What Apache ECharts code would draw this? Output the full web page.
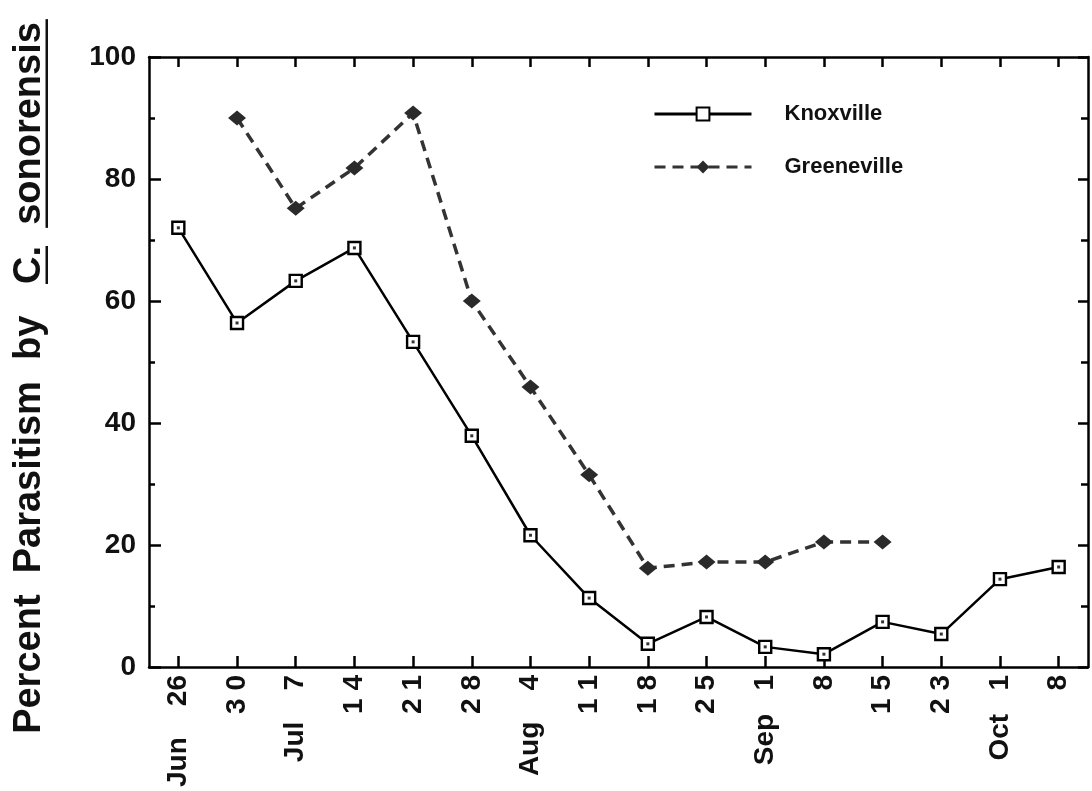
<!DOCTYPE html>
<html>
<head>
<meta charset="utf-8">
<script src="https://cdn.jsdelivr.net/npm/echarts@6/dist/echarts.min.js"></script>
<style>
  html, body { margin: 0; padding: 0; background: #fff; }
  #chart { width: 1092px; height: 791px; }
</style>
</head>
<body>
<div id="chart"></div>
<script>
// Sampling dates (one per weekly collection)
const categories = ['Jun 26', 'Jun 30', 'Jul 7', 'Jul 14', 'Jul 21', 'Jul 28', 'Aug 4', 'Aug 11',
  'Aug 18', 'Aug 25', 'Sep 1', 'Sep 8', 'Sep 15', 'Sep 23', 'Oct 1', 'Oct 8'];
// Text printed under each tick
const tickLabels = ['Jun    26', '3 0', 'Jul    7', '1 4', '2 1', '2 8', 'Aug    4', '1 1',
  '1 8', '2 5', 'Sep   1', '8', '1 5', '2 3', 'Oct   1', '8'];
// Percent parasitism by C. sonorensis at each site
const knoxville = [72.0, 56.4, 63.3, 68.7, 53.3, 37.9, 21.6, 11.3, 3.8, 8.2, 3.3, 2.1, 7.4, 5.4, 14.4, 16.4];
const greeneville = [null, 90.0, 75.2, 81.8, 90.8, 60.0, 45.9, 31.5, 16.2, 17.2, 17.2, 20.5, 20.5, null, null, null];
// Value axis ticks
const yTicks = [0, 20, 40, 60, 80, 100];

const FAMILY = '"Liberation Sans", Arial, Helvetica, sans-serif';
const INK = '#111';

// Axis title with underlined genus/species, measured so the underlines sit under the words
const titleSize = 38;
const titleFont = 'bold ' + titleSize + 'px ' + FAMILY;
const titleParts = ['Percent  Parasitism  by   ', 'C.', '  ', 'sonorensis'];
const measureCtx = document.createElement('canvas').getContext('2d');
measureCtx.font = titleFont;
const tw = s => measureCtx.measureText(s).width;
const titleText = titleParts.join('');
const titleW = tw(titleText);
const cStart = tw(titleParts[0]) - titleW / 2;
const cWidth = tw(titleParts[1]);
const sStart = tw(titleParts[0] + titleParts[1] + titleParts[2]) - titleW / 2;
const sWidth = tw(titleParts[3]);

const frameLine = { color: '#000', width: 2.5 };
const tickLine = { color: '#000', width: 2.5 };

// Four-sided frame: every axis keeps its own edge (onZero off) with ticks pointing into the plot
const chart = echarts.init(document.getElementById('chart'), null, { renderer: 'canvas' });
chart.setOption({
  animation: false,
  backgroundColor: '#fff',
  grid: { left: 149, right: 4, top: 57, bottom: 124, containLabel: false },
  legend: {
    data: ['Knoxville', 'Greeneville'],
    orient: 'vertical',
    left: 648,
    top: 98,
    itemWidth: 97,
    itemHeight: 16,
    itemGap: 31,
    selectedMode: false,
    lineStyle: { width: 3 },
    textStyle: { fontSize: 22, fontWeight: 'bold', color: INK, fontFamily: FAMILY, padding: [0, 0, 0, 28] }
  },
  xAxis: [
    {
      type: 'category',
      data: categories,
      position: 'bottom',
      boundaryGap: true,
      axisLine: { onZero: false, lineStyle: frameLine },
      axisTick: { show: true, inside: true, alignWithLabel: true, length: 11, lineStyle: tickLine },
      axisLabel: {
        interval: 0,
        rotate: 90,
        margin: 8,
        fontSize: 28,
        fontWeight: 'bold',
        color: INK,
        fontFamily: FAMILY,
        formatter: (v, i) => tickLabels[i]
      },
      splitLine: { show: false }
    },
    {
      type: 'category',
      data: categories,
      position: 'top',
      boundaryGap: true,
      axisLine: { onZero: false, lineStyle: frameLine },
      axisTick: { show: true, inside: true, alignWithLabel: true, length: 10, lineStyle: tickLine },
      axisLabel: { show: false },
      splitLine: { show: false }
    }
  ],
  yAxis: [
    {
      type: 'value',
      position: 'left',
      min: yTicks[0],
      max: yTicks[yTicks.length - 1],
      interval: yTicks[1] - yTicks[0],
      axisLine: { show: true, onZero: false, lineStyle: frameLine },
      axisTick: { show: true, inside: true, length: 12, lineStyle: tickLine },
      minorTick: { show: true, splitNumber: 2, length: 6, lineStyle: tickLine },
      axisLabel: { fontSize: 28, fontWeight: 'bold', color: INK, fontFamily: FAMILY, margin: 13 },
      splitLine: { show: false }
    },
    {
      type: 'value',
      position: 'right',
      min: yTicks[0],
      max: yTicks[yTicks.length - 1],
      interval: yTicks[1] - yTicks[0],
      axisLine: { show: true, onZero: false, lineStyle: frameLine },
      axisTick: { show: true, inside: true, length: 10, lineStyle: tickLine },
      minorTick: { show: true, splitNumber: 2, length: 7, lineStyle: tickLine },
      axisLabel: { show: false },
      splitLine: { show: false }
    }
  ],
  series: [
    {
      name: 'Greeneville',
      type: 'line',
      data: greeneville,
      connectNulls: false,
      symbol: 'diamond',
      symbolSize: [18, 15],
      showAllSymbol: true,
      lineStyle: { color: '#333', width: 3.5, type: [11, 7] },
      itemStyle: { color: '#2a2a2a' },
      z: 2
    },
    {
      name: 'Knoxville',
      type: 'line',
      data: knoxville,
      symbol: 'rect',
      symbolSize: 12,
      showAllSymbol: true,
      lineStyle: { color: '#000', width: 2.5 },
      itemStyle: { color: '#fff', borderColor: '#000', borderWidth: 2.4 },
      z: 3
    },
    {
      // small centre dot inside each Knoxville square
      name: 'knoxCentres',
      type: 'scatter',
      data: knoxville,
      symbol: 'rect',
      symbolSize: 3,
      itemStyle: { color: '#000' },
      silent: true,
      z: 4
    }
  ],
  graphic: [
    {
      type: 'group',
      x: 30,
      y: 378,
      rotation: Math.PI / 2,
      children: [
        {
          type: 'text',
          x: 0,
          y: 0,
          style: {
            text: titleText,
            font: titleFont,
            fill: INK,
            align: 'center',
            verticalAlign: 'middle',
            textAlign: 'center',
            textVerticalAlign: 'middle'
          }
        },
        { type: 'rect', shape: { x: cStart, y: 15.5, width: cWidth, height: 2.5 }, style: { fill: INK } },
        { type: 'rect', shape: { x: sStart - 3, y: 15.5, width: sWidth + 6, height: 2.5 }, style: { fill: INK } }
      ]
    }
  ]
});
</script>
</body>
</html>
